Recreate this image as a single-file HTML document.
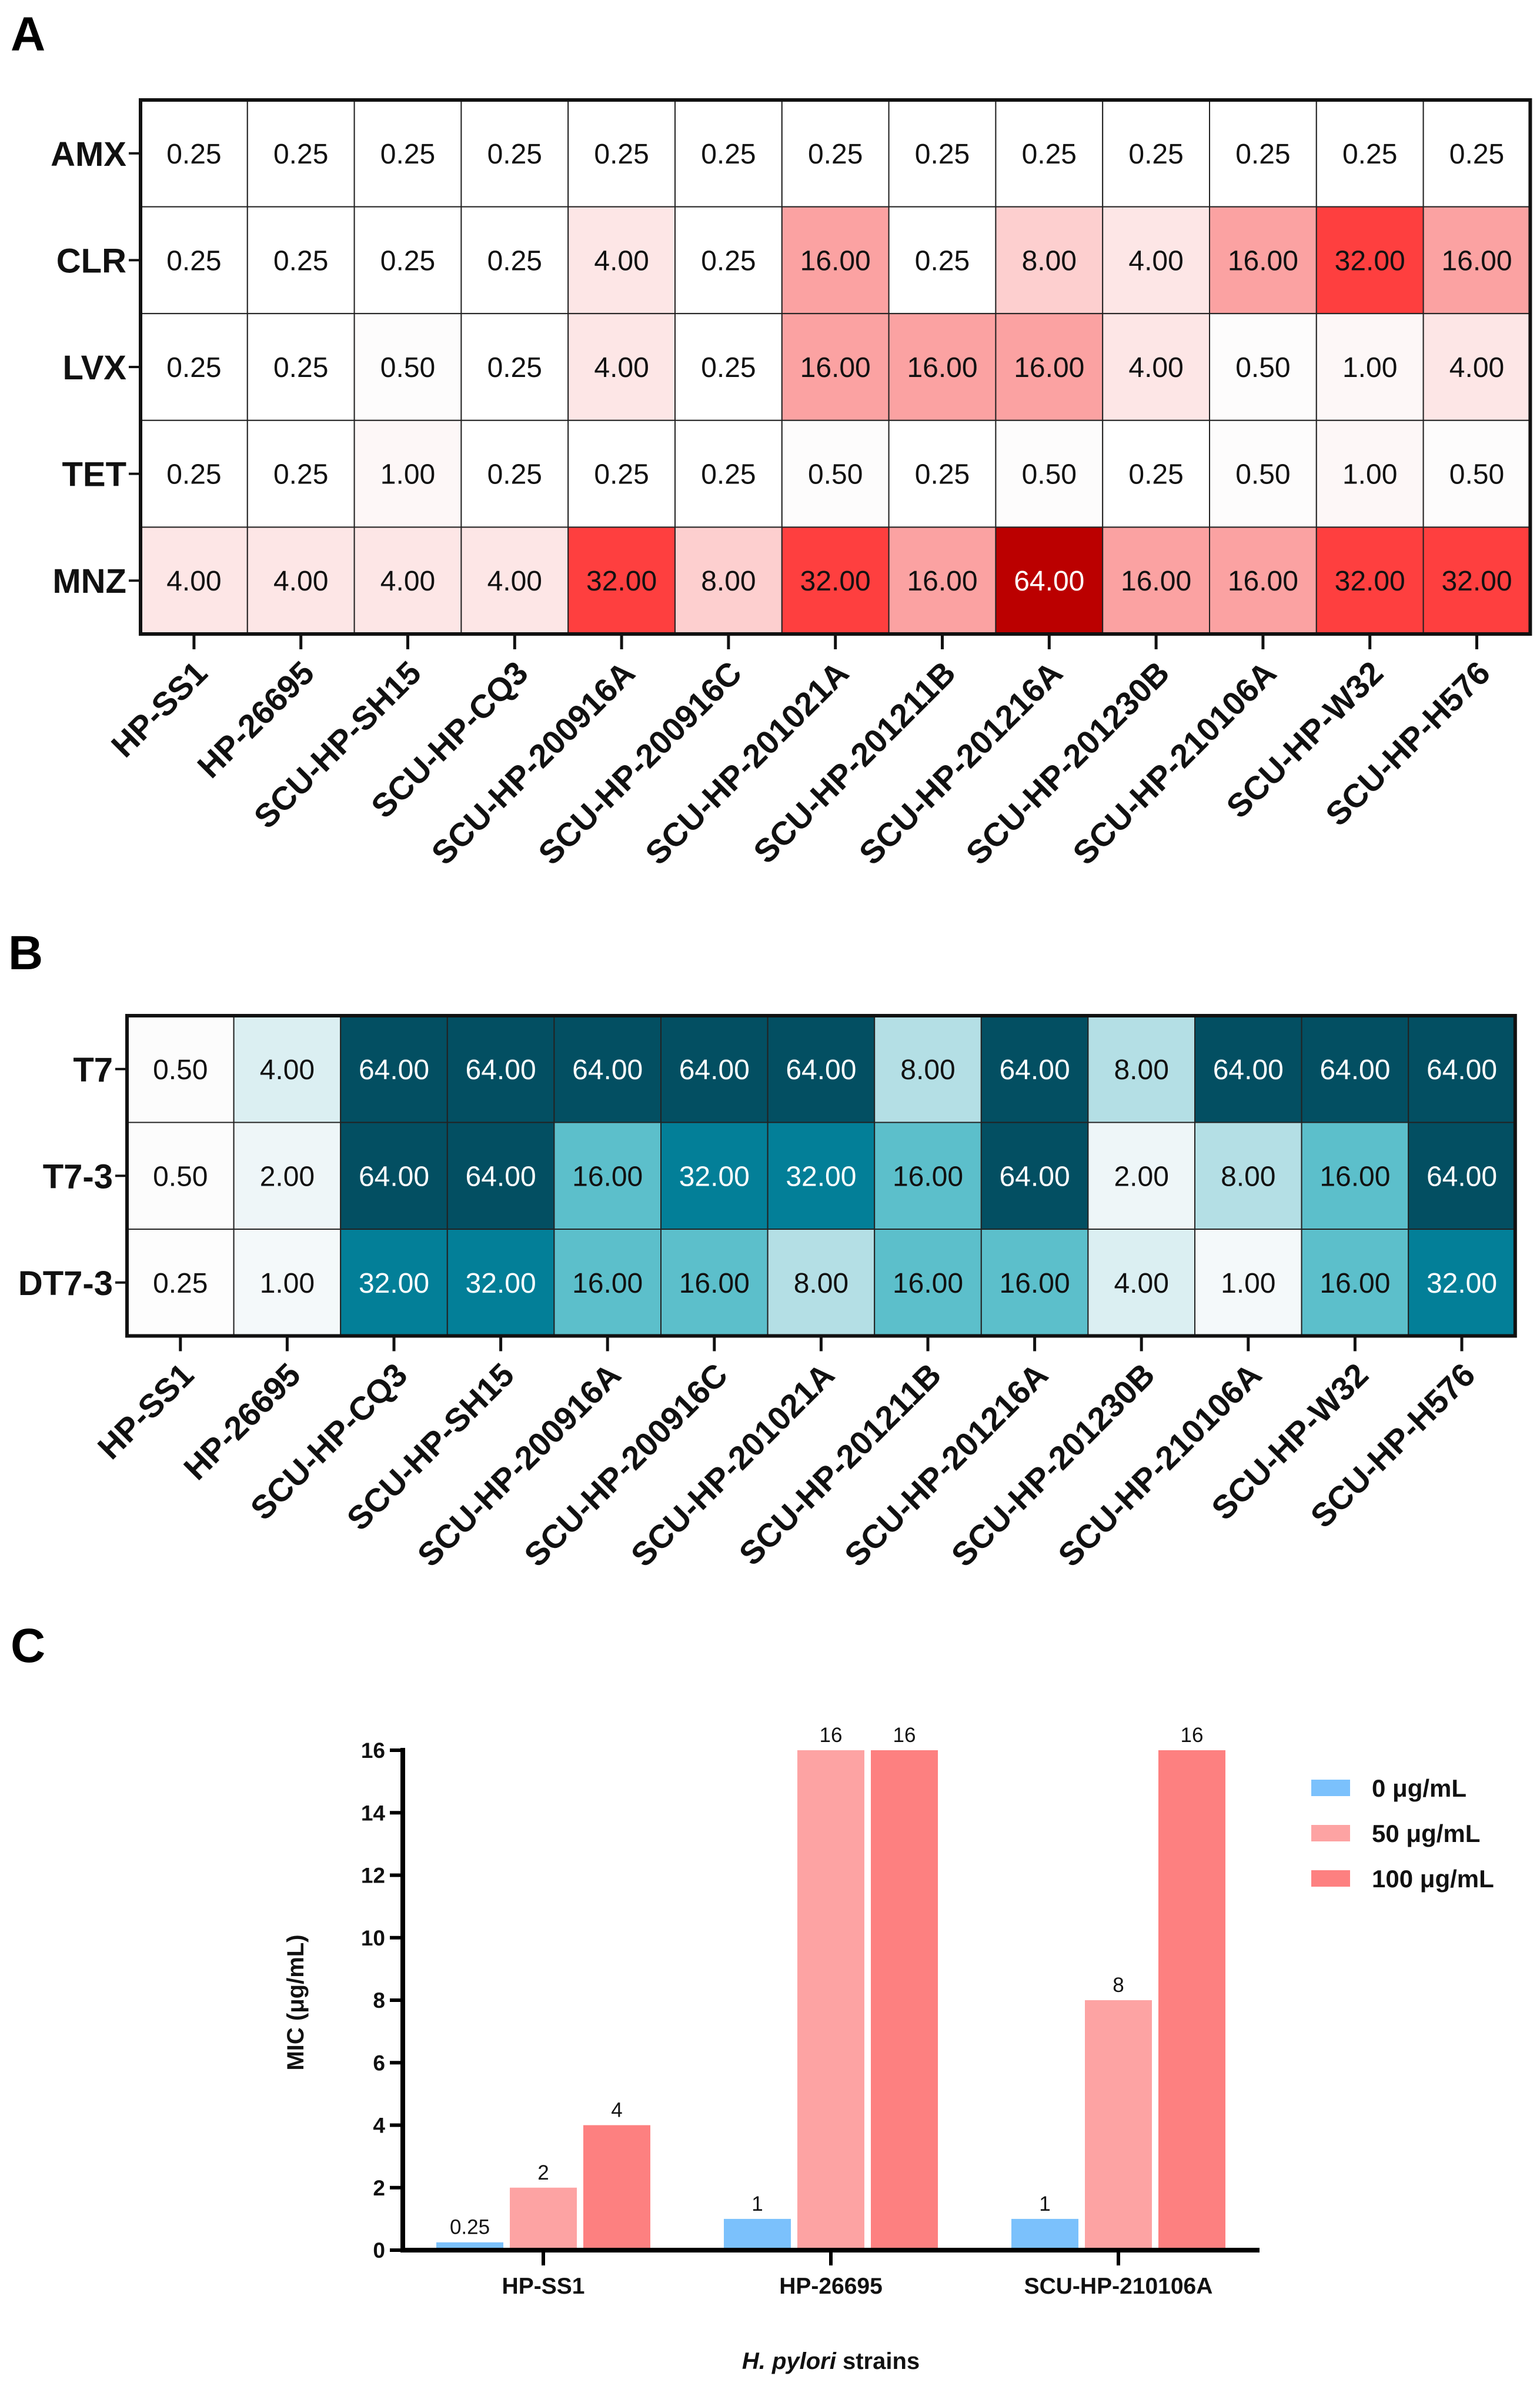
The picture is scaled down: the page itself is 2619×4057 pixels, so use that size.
<!DOCTYPE html>
<html><head><meta charset="utf-8">
<style>
html,body{margin:0;padding:0;background:#fff;}
svg{display:block;font-family:"Liberation Sans",Arial,sans-serif;}
</style></head>
<body>
<svg id="fig" width="2619" height="4057" viewBox="0 0 2619 4057" xmlns="http://www.w3.org/2000/svg">
<text x="18" y="86" font-size="82" font-weight="bold">A</text>
<text x="14" y="1648" font-size="82" font-weight="bold">B</text>
<text x="18" y="2826" font-size="82" font-weight="bold">C</text>
<g id="pa"></g>
<g id="pb"></g>
<g id="pc"></g>
</svg>
<script>
// ---------- Panel A data ----------
const aRows = ["AMX","CLR","LVX","TET","MNZ"];
const aCols = ["HP-SS1","HP-26695","SCU-HP-SH15","SCU-HP-CQ3","SCU-HP-200916A","SCU-HP-200916C","SCU-HP-201021A","SCU-HP-201211B","SCU-HP-201216A","SCU-HP-201230B","SCU-HP-210106A","SCU-HP-W32","SCU-HP-H576"];
const aAMX = [0.25,0.25,0.25,0.25,0.25,0.25,0.25,0.25,0.25,0.25,0.25,0.25,0.25];
const aCLR = [0.25,0.25,0.25,0.25,4,0.25,16,0.25,8,4,16,32,16];
const aLVX = [0.25,0.25,0.5,0.25,4,0.25,16,16,16,4,0.5,1,4];
const aTET = [0.25,0.25,1,0.25,0.25,0.25,0.5,0.25,0.5,0.25,0.5,1,0.5];
const aMNZ = [4,4,4,4,32,8,32,16,64,16,16,32,32];
// ---------- Panel B data ----------
const bRows = ["T7","T7-3","DT7-3"];
const bCols = ["HP-SS1","HP-26695","SCU-HP-CQ3","SCU-HP-SH15","SCU-HP-200916A","SCU-HP-200916C","SCU-HP-201021A","SCU-HP-201211B","SCU-HP-201216A","SCU-HP-201230B","SCU-HP-210106A","SCU-HP-W32","SCU-HP-H576"];
const bT7 = [0.5,4,64,64,64,64,64,8,64,8,64,64,64];
const bT73 = [0.5,2,64,64,16,32,32,16,64,2,8,16,64];
const bDT73 = [0.25,1,32,32,16,16,8,16,16,4,1,16,32];
// ---------- Panel C data ----------
const cCats = ["HP-SS1","HP-26695","SCU-HP-210106A"];
const cSeriesNames = ["0 μg/mL","50 μg/mL","100 μg/mL"];
const c0 = [0.25,1,1];
const c50 = [2,16,8];
const c100 = [4,16,16];
const cLabels0 = ["0.25","1","1"];
const cLabels50 = ["2","16","8"];
const cLabels100 = ["4","16","16"];
const cTicks = [0,2,4,6,8,10,12,14,16];

const NS="http://www.w3.org/2000/svg";
function mk(tag,attrs,parent,txt){const e=document.createElementNS(NS,tag);for(const k in attrs)e.setAttribute(k,attrs[k]);if(txt!==undefined)e.textContent=txt;parent.appendChild(e);return e;}

const redMap={0.25:"#ffffff",0.5:"#fdfcfc",1:"#fdf7f7",2:"#fef0f0",4:"#fde6e6",8:"#fdcfcf",16:"#fba2a2",32:"#fe3f3f",64:"#bb0000"};
const tealMap={0.25:"#fdfdfd",0.5:"#fcfcfc",1:"#f4f9fa",2:"#eef6f8",4:"#dbeff2",8:"#b4dfe5",16:"#5cbfcb",32:"#037f98",64:"#034f62"};

function heat(g,rows,cols,data,x0,y0,cw,ch,cmap,darkFrom,prefix){
  const n=cols.length,m=rows.length;
  for(let r=0;r<m;r++){
    for(let c=0;c<n;c++){
      const v=data[r][c];
      const rect=mk("rect",{x:x0+c*cw,y:y0+r*ch,width:cw,height:ch,fill:cmap[v],stroke:"#222","stroke-width":2},g);
      
      
      const t=mk("text",{x:x0+c*cw+cw/2,y:y0+r*ch+ch/2+17,"font-size":48,"text-anchor":"middle",fill:v>=darkFrom?"#fff":"#111"},g,v.toFixed(2));
      
      
    }
    const yy=y0+r*ch+ch/2;
    mk("line",{x1:x0-20,y1:yy,x2:x0,y2:yy,stroke:"#111","stroke-width":4},g);
    const rl=mk("text",{x:x0-24,y:yy+21,"font-size":58,"font-weight":"bold","text-anchor":"end",fill:"#111"},g,rows[r]);
    
    
  }
  mk("rect",{x:x0,y:y0,width:n*cw,height:m*ch,fill:"none",stroke:"#111","stroke-width":6},g);
  const yb=y0+m*ch;
  for(let c=0;c<n;c++){
    const cx=x0+c*cw+cw/2;
    mk("line",{x1:cx,y1:yb,x2:cx,y2:yb+26,stroke:"#111","stroke-width":5},g);
    const cl=mk("text",{x:0,y:0,"font-size":56,"font-weight":"bold","text-anchor":"end",fill:"#111",transform:`translate(${cx+26},${yb+70}) rotate(-45)`},g,cols[c]);
    
    
  }
}
heat(document.getElementById("pa"),aRows,aCols,[aAMX,aCLR,aLVX,aTET,aMNZ],239,170,181.8,181.6,redMap,64,"heatmap-a");
heat(document.getElementById("pb"),bRows,bCols,[bT7,bT73,bDT73],216,1727,181.6,181.5,tealMap,32,"heatmap-b");

// ---------- Panel C ----------
const g=document.getElementById("pc");
const X0=685,XEND=2142,Y0=3826,Y16=2976;
const yS=v=>Y0-(v/16)*(Y0-Y16);
const G0=924,GSTEP=489;
const xC=i=>G0+i*GSTEP;
const series=[c0,c50,c100],labs=[cLabels0,cLabels50,cLabels100],cols=["#7bc1fc","#fda3a3","#fd8080"];
const bw=114,step=125;
for(let s=0;s<3;s++){
  for(let i=0;i<cCats.length;i++){
    const cx=xC(i)+(s-1)*step, v=series[s][i];
    const b=mk("rect",{x:cx-bw/2,y:yS(v),width:bw,height:Y0-yS(v),fill:cols[s]},g);
    
    
    const t=mk("text",{x:cx,y:yS(v)-14,"font-size":35,"text-anchor":"middle",fill:"#111"},g,labs[s][i]);
    
    
  }
}
mk("line",{x1:X0,y1:Y16-4,x2:X0,y2:Y0+4,stroke:"#000","stroke-width":8},g);
mk("line",{x1:X0-4,y1:Y0,x2:XEND,y2:Y0,stroke:"#000","stroke-width":8},g);
for(const tv of cTicks){
  const y=yS(tv);
  mk("line",{x1:X0-22,y1:y,x2:X0,y2:y,stroke:"#000","stroke-width":6},g);
  const t=mk("text",{x:X0-30,y:y+13,"font-size":37,"font-weight":"bold","text-anchor":"end",fill:"#111"},g,String(tv));
  
  
}
for(let i=0;i<cCats.length;i++){
  mk("line",{x1:xC(i),y1:Y0,x2:xC(i),y2:Y0+26,stroke:"#000","stroke-width":6},g);
  const t=mk("text",{x:xC(i),y:3900,"font-size":39,"font-weight":"bold","text-anchor":"middle",fill:"#111"},g,cCats[i]);
  
  
}
const yt=mk("text",{x:0,y:0,"font-size":40,"font-weight":"bold","text-anchor":"middle",fill:"#111",transform:"translate(516,3405) rotate(-90)"},g,"MIC (μg/mL)");


const xt=mk("text",{x:1413,y:4028,"font-size":40,"font-weight":"bold","text-anchor":"middle",fill:"#111"},g,"");


mk("tspan",{"font-style":"italic"},xt,"H. pylori");
mk("tspan",{},xt," strains");
for(let s=0;s<3;s++){
  const ly=3040+s*77;
  const sw=mk("rect",{x:2230,y:ly-14,width:66,height:28,fill:cols[s]},g);
  
  
  const lt=mk("text",{x:2333,y:ly+15,"font-size":42,"font-weight":"bold",fill:"#111"},g,cSeriesNames[s]);
  
  
}
</script>
</body></html>
